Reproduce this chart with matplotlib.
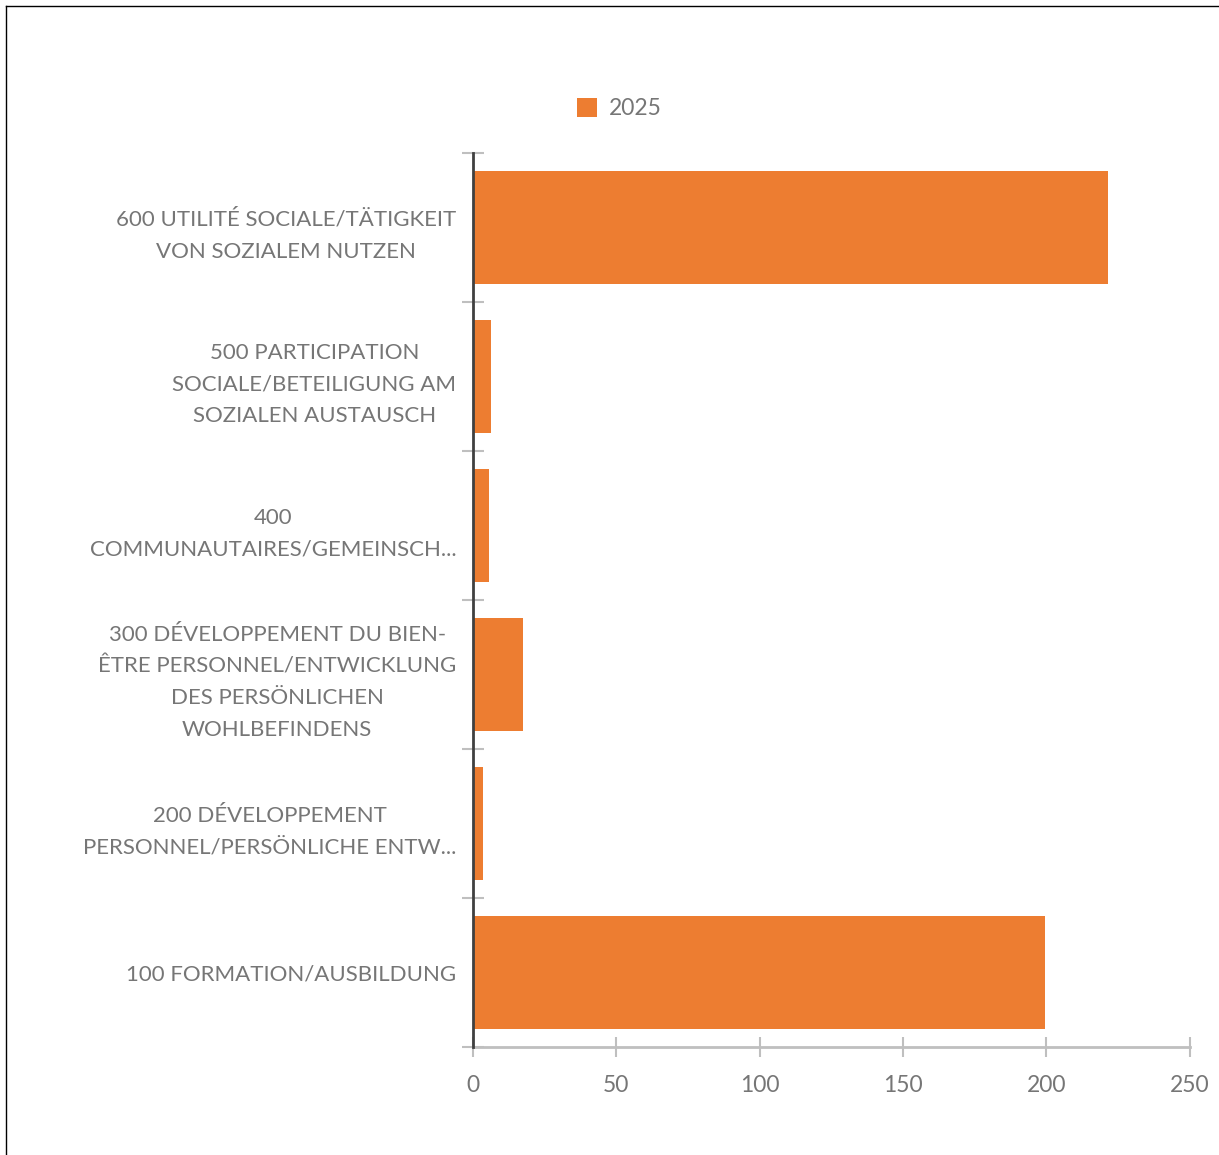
import matplotlib.pyplot as plt
from matplotlib.lines import Line2D

plt.rcParams['font.family'] = ['Lato', 'DejaVu Sans']

## data (bottom to top)
categories = [
    "100 FORMATION/AUSBILDUNG",
    "200 DÉVELOPPEMENT\nPERSONNEL/PERSÖNLICHE ENTW...",
    "300 DÉVELOPPEMENT DU BIEN-\nÊTRE PERSONNEL/ENTWICKLUNG\nDES PERSÖNLICHEN\nWOHLBEFINDENS",
    "400\nCOMMUNAUTAIRES/GEMEINSCH...",
    "500 PARTICIPATION\nSOCIALE/BETEILIGUNG AM\nSOZIALEN AUSTAUSCH",
    "600 UTILITÉ SOCIALE/TÄTIGKEIT\nVON SOZIALEM NUTZEN",
]
values_2025 = [199.5, 3.5, 17.5, 5.5, 6.3, 221.5]
x_ticks = [0, 50, 100, 150, 200, 250]

orange = '#ED7D31'
grid_gray = '#BFBFBF'
text_gray = '#767676'

fig = plt.figure(figsize=(12.19, 11.55), dpi=100)
ax = fig.add_axes([0.388, 0.0935, 0.976 - 0.388, 0.8675 - 0.0935])

ypos = list(range(len(categories)))
ax.barh(ypos, values_2025, height=0.76, color=orange, label='2025', zorder=3)

ax.set_xlim(0, 250)
ax.set_ylim(-0.5, len(categories) - 0.5)
ax.set_xticks(x_ticks)
ax.set_xticklabels([str(t) for t in x_ticks])

# category labels between tick marks at band edges
ax.set_yticks(ypos)
ax.set_yticklabels(categories, multialignment='center', linespacing=1.74)
ax.set_yticks([y - 0.5 for y in ypos] + [len(categories) - 0.5], minor=True)
ax.tick_params(axis='y', which='major', length=0, pad=12, labelsize=16, labelcolor=text_gray)
ax.tick_params(axis='y', which='minor', direction='inout', length=16, width=1.5, color=grid_gray)
ax.tick_params(axis='x', direction='inout', length=14, width=1.5, color=grid_gray,
               labelsize=16.5, labelcolor=text_gray, pad=13)

for s in ['top', 'right']:
    ax.spines[s].set_visible(False)
ax.spines['left'].set_color('#404040')
ax.spines['left'].set_linewidth(2)
ax.spines['left'].set_zorder(4)
ax.spines['bottom'].set_color(grid_gray)
ax.spines['bottom'].set_linewidth(2)

fig.legend(loc='center', bbox_to_anchor=(0.508, 0.906), frameon=False,
           fontsize=16.5, labelcolor=text_gray, handlelength=0.9, handleheight=0.9,
           handletextpad=0.5)

# outer border (left and top)
fig.add_artist(Line2D([6 / 1219, 6 / 1219], [0, 1 - 6 / 1155], color='black', lw=1,
                      transform=fig.transFigure))
fig.add_artist(Line2D([6 / 1219, 1], [1 - 6 / 1155, 1 - 6 / 1155], color='black', lw=1,
                      transform=fig.transFigure))

fig.savefig('out.png', dpi=100)
